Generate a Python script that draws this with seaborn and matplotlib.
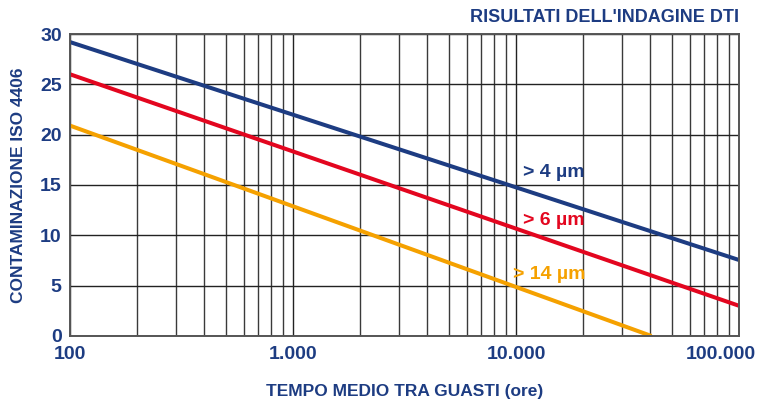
"""Contaminazione ISO 4406 vs tempo medio tra guasti (indagine DTI)."""
import matplotlib

matplotlib.use("Agg")

import matplotlib.pyplot as plt
import matplotlib.transforms as mtransforms
from matplotlib.ticker import FixedLocator, LogLocator, NullFormatter
import pandas as pd
import seaborn as sns

# dati (estremi delle rette)
tempo_4um = [100, 100000]
iso_4um = [29.2, 7.55]
tempo_6um = [100, 100000]
iso_6um = [26.0, 3.0]
tempo_14um = [100, 40500]
iso_14um = [20.9, 0.0]

x_ticks = [100, 1000, 10000, 100000]
x_tick_labels = ["100", "1.000", "10.000", "100.000"]
y_ticks = [0, 5, 10, 15, 20, 25, 30]

NAVY = "#1d3c82"
RED = "#e3061f"
ORANGE = "#f5a100"

sns.set_style("white")
plt.rcParams["font.family"] = ["Liberation Sans", "DejaVu Sans"]
plt.rcParams["font.weight"] = "bold"

df = pd.concat([
    pd.DataFrame({"tempo": tempo_4um, "iso": iso_4um, "serie": "> 4 µm"}),
    pd.DataFrame({"tempo": tempo_6um, "iso": iso_6um, "serie": "> 6 µm"}),
    pd.DataFrame({"tempo": tempo_14um, "iso": iso_14um, "serie": "> 14 µm"}),
])
palette = {"> 4 µm": NAVY, "> 6 µm": RED, "> 14 µm": ORANGE}

fig = plt.figure(figsize=(7.57, 4.03), dpi=100)
ax = fig.add_axes([0.0925, 0.1663, 0.8837, 0.7493])

ax.set_xscale("log")
ax.set_xlim(100, 100000)
ax.set_ylim(0, 30)

# griglia
ax.xaxis.set_major_locator(FixedLocator(x_ticks))
ax.xaxis.set_minor_locator(LogLocator(base=10, subs=range(2, 10)))
ax.xaxis.set_minor_formatter(NullFormatter())
ax.set_xticks(x_ticks, x_tick_labels)
ax.set_yticks(y_ticks)
ax.grid(which="major", axis="both", color="#222222", linewidth=1.0)
ax.grid(which="minor", axis="x", color="#3a3a3a", linewidth=1.0)
ax.set_axisbelow(True)

sns.lineplot(data=df, x="tempo", y="iso", hue="serie", palette=palette,
             linewidth=2.9, legend=False, ax=ax, solid_capstyle="butt")

for side in ["left", "bottom", "right", "top"]:
    ax.spines[side].set_color("#555555")
    ax.spines[side].set_linewidth(1.4)

ax.tick_params(axis="both", which="both", length=0, labelsize=14,
               labelcolor=NAVY, pad=7)
ax.tick_params(axis="y", pad=6)
for lab in ax.get_xticklabels() + ax.get_yticklabels():
    lab.set_fontweight("bold")

# ultima etichetta spostata a sinistra per restare nell'immagine
last = ax.get_xticklabels()[-1]
last.set_transform(last.get_transform() + mtransforms.ScaledTranslation(-18 / 100, 0, fig.dpi_scale_trans))

ax.set_xlabel("TEMPO MEDIO TRA GUASTI (ore)", fontsize=12.5, color=NAVY,
              fontweight="bold", labelpad=15)
ax.set_ylabel("CONTAMINAZIONE ISO 4406", fontsize=12.5, color=NAVY,
              fontweight="bold", labelpad=10)
ax.set_title("RISULTATI DELL'INDAGINE DTI", loc="right", fontsize=13,
             color=NAVY, fontweight="bold", pad=9)

ax.text(10700, 16.2, "> 4 µm", color=NAVY, fontsize=14, fontweight="bold",
        ha="left", va="center")
ax.text(10700, 11.5, "> 6 µm", color=RED, fontsize=14, fontweight="bold",
        ha="left", va="center")
ax.text(9700, 6.1, "> 14 µm", color=ORANGE, fontsize=14, fontweight="bold",
        ha="left", va="center")

fig.savefig("out.png", dpi=100)
plt.close(fig)
